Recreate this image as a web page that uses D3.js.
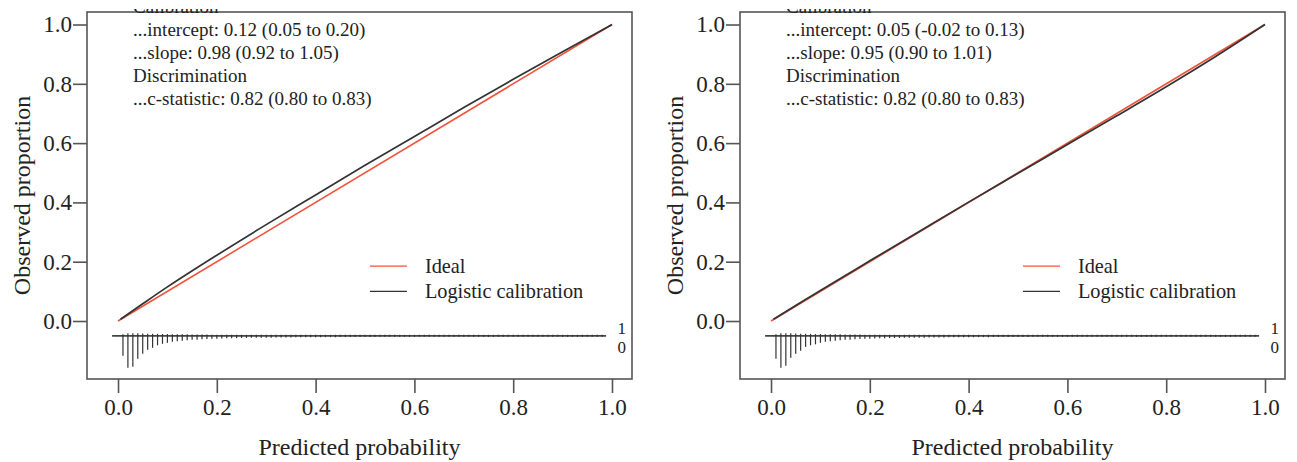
<!DOCTYPE html>
<html>
<head>
<meta charset="utf-8">
<script src="https://cdn.jsdelivr.net/npm/d3@7"></script>
<style>
  html, body { margin: 0; padding: 0; background: #fff; }
  svg text { font-family: "Liberation Serif", "Times New Roman", serif; fill: #222; }
</style>
</head>
<body>
<svg id="chart" width="1297" height="462"></svg>
<script>
// ---------- data ----------
const xTicks = [0, 0.2, 0.4, 0.6, 0.8, 1.0];
const yTicks = [0, 0.2, 0.4, 0.6, 0.8, 1.0];
const tickLabels = ["0.0", "0.2", "0.4", "0.6", "0.8", "1.0"];

const idealP = [0, 1];
const idealObs = [0, 1];

const curveP = [0.005, 0.05, 0.1, 0.2, 0.3, 0.4, 0.5, 0.6, 0.7, 0.8, 0.9, 1.0];
const leftLogistic  = [0.006, 0.058, 0.115, 0.222, 0.325, 0.425, 0.525, 0.622, 0.72, 0.815, 0.908, 1.0];
const rightLogistic = [0.006, 0.052, 0.103, 0.203, 0.302, 0.401, 0.498, 0.595, 0.692, 0.79, 0.892, 1.0];

const leftStats  = ["Calibration", "...intercept: 0.12 (0.05 to 0.20)", "...slope: 0.98 (0.92 to 1.05)", "Discrimination", "...c-statistic: 0.82 (0.80 to 0.83)"];
const rightStats = ["Calibration", "...intercept: 0.05 (-0.02 to 0.13)", "...slope: 0.95 (0.90 to 1.01)", "Discrimination", "...c-statistic: 0.82 (0.80 to 0.83)"];

const legendLabels = ["Ideal", "Logistic calibration"];

// histogram spikes of predicted probabilities (bins of 0.01), relative heights
const rugBins = [0.01,0.02,0.03,0.04,0.05,0.06,0.07,0.08,0.09,0.10,0.11,0.12,0.13,0.14,0.15,0.16,0.17,0.18,0.19,0.20,
  0.21,0.22,0.23,0.24,0.25,0.26,0.27,0.28,0.29,0.30,0.31,0.32,0.33,0.34,0.35,0.36,0.37,0.38,0.39,0.40,
  0.41,0.42,0.43,0.44,0.45,0.46,0.47,0.48,0.49,0.50,0.51,0.52,0.53,0.54,0.55,0.56,0.57,0.58,0.59,0.60,
  0.61,0.62,0.63,0.64,0.65,0.66,0.67,0.68,0.69,0.70,0.71,0.72,0.73,0.74,0.75,0.76,0.77,0.78,0.79,0.80,
  0.81,0.82,0.83,0.84,0.85,0.86,0.87,0.88,0.89,0.90,0.91,0.92,0.93,0.94,0.95,0.96,0.97,0.98];
const leftNonEvents = [20,32,31,23,18,14,12,9.5,8,7,6,5.5,5,4.5,4,3.8,3.5,3.2,3,2.8,
  2.6,2.5,2.4,2.3,2.2,2.1,2,2,1.9,1.8,1.8,1.7,1.7,1.6,1.6,1.5,1.5,1.5,1.4,1.4,
  1.4,1.3,1.3,1.3,1.2,1.2,1.2,1.2,1.1,1.1,1.1,1.1,1,1,1,1,1,1,1,1,
  1,1,1,1,1,1,1,1,1,1,1,1,1,1,1,1,1,1,1,1,
  1,1,1,1,1,1,1,1,1,1,1,1,1,1,1,1,1,1];
const leftEvents = [1.5,2.5,2.5,2.5,2.3,2.2,2,2,1.8,1.8,1.7,1.6,1.5,1.5,1.4,1.4,1.3,1.3,1.2,1.2,
  1.2,1.1,1.1,1.1,1.1,1,1,1,1,1,1,1,1,1,1,1,1,1,1,1,
  1,1,1,1,1,1,1,1,1,1,1,1,1,1,1,1,1,1,1,1,
  1,1,1,1,1,1,1,1,1,1,1,1,1,1,1,1,1,1,1,1,
  1,1,1,1,1,1,1,1,1,1,1,1,1,1,1,1,1,1];
const rightNonEvents = [23,32,30,22,18,15,11,9.5,8.5,7,6,5.5,5,4.5,4,3.8,3.5,3.2,3,2.8,
  2.6,2.5,2.4,2.3,2.2,2.1,2,2,1.9,1.8,1.8,1.7,1.7,1.6,1.6,1.5,1.5,1.5,1.4,1.4,
  1.4,1.3,1.3,1.3,1.2,1.2,1.2,1.2,1.1,1.1,1.1,1.1,1,1,1,1,1,1,1,1,
  1,1,1,1,1,1,1,1,1,1,1,1,1,1,1,1,1,1,1,1,
  1,1,1,1,1,1,1,1,1,1,1,1,1,1,1,1,1,1];
const rightEvents = leftEvents;

// ---------- drawing ----------
const svg = d3.select("#chart");
const boxColor = "#555";
const red = "#f0523a";
const dark = "#333";

function panel(offsetX, logistic, stats, nonEvents, events) {
  const x = d3.scaleLinear().domain([-0.0628, 1.0405]).range([87 + offsetX, 632 + offsetX]);
  const y = d3.scaleLinear().domain([-0.1956, 1.0422]).range([379, 12]);
  const h = d3.scaleLinear().domain([0, 32]).range([0, 32]);
  const g = svg.append("g");

  // box
  g.append("rect").attr("x", x.range()[0]).attr("y", y.range()[1])
    .attr("width", x.range()[1] - x.range()[0]).attr("height", y.range()[0] - y.range()[1])
    .attr("fill", "none").attr("stroke", boxColor).attr("stroke-width", 1.6);

  // x axis
  const xa = g.append("g").attr("transform", `translate(0,${y.range()[0]})`)
    .call(d3.axisBottom(x).tickValues(xTicks).tickFormat((d, i) => tickLabels[i]).tickSize(14).tickPadding(6));
  xa.select(".domain").remove();
  xa.selectAll("line").attr("stroke", boxColor).attr("stroke-width", 1.6);
  xa.selectAll("text").attr("font-size", 23).attr("font-family", "Liberation Serif").attr("fill", "#222");

  // y axis
  const ya = g.append("g").attr("transform", `translate(${x.range()[0]},0)`)
    .call(d3.axisLeft(y).tickValues(yTicks).tickFormat((d, i) => tickLabels[i]).tickSize(14).tickPadding(1));
  ya.select(".domain").remove();
  ya.selectAll("line").attr("stroke", boxColor).attr("stroke-width", 1.6);
  ya.selectAll("text").attr("font-size", 23).attr("font-family", "Liberation Serif").attr("fill", "#222");

  // axis titles
  g.append("text").attr("x", (x.range()[0] + x.range()[1]) / 2).attr("y", 455)
    .attr("text-anchor", "middle").attr("font-size", 24).text("Predicted probability");
  g.append("text").attr("transform", `translate(${30 + offsetX},${(y.range()[0] + y.range()[1]) / 2}) rotate(-90)`)
    .attr("text-anchor", "middle").attr("font-size", 24).text("Observed proportion");

  // clip for plot region (text is clipped to the plot region, as in the original)
  const clipId = "clip" + offsetX;
  svg.append("clipPath").attr("id", clipId).append("rect")
    .attr("x", x.range()[0]).attr("y", 9).attr("width", x.range()[1] - x.range()[0]).attr("height", y.range()[0] - 9);

  // stats text
  g.append("g").attr("clip-path", `url(#${clipId})`).selectAll("text").data(stats).join("text")
    .attr("x", x(0.0305)).attr("y", (d, i) => 13 + i * 23)
    .attr("font-size", 19).text(d => d);

  // ideal line
  const line = d3.line().x(d => x(d[0])).y(d => y(d[1]));
  g.append("path").datum(idealP.map((p, i) => [p, idealObs[i]]))
    .attr("d", line).attr("fill", "none").attr("stroke", red).attr("stroke-width", 1.6);
  // logistic calibration curve
  g.append("path").datum(curveP.map((p, i) => [p, logistic[i]]))
    .attr("d", d3.line().curve(d3.curveMonotoneX).x(d => x(d[0])).y(d => y(d[1])))
    .attr("fill", "none").attr("stroke", dark).attr("stroke-width", 1.7);

  // legend
  const lg = g.append("g");
  const lx = x(0.51), ly = [y(0.185), y(0.1)];
  legendLabels.forEach((lab, i) => {
    lg.append("line").attr("x1", lx).attr("x2", lx + 37).attr("y1", ly[i]).attr("y2", ly[i])
      .attr("stroke", i === 0 ? red : dark).attr("stroke-width", 1.4);
    lg.append("text").attr("x", lx + 55).attr("y", ly[i] + 6.5).attr("font-size", 20.3).text(lab);
  });

  // rug / spike histogram
  const base = y(-0.05);
  g.append("line").attr("x1", x(-0.012)).attr("x2", x(0.988)).attr("y1", base).attr("y2", base)
    .attr("stroke", "#444").attr("stroke-width", 1.6);
  g.append("g").selectAll("line").data(rugBins).join("line")
    .attr("x1", d => x(d)).attr("x2", d => x(d))
    .attr("y1", base).attr("y2", (d, i) => base + h(nonEvents[i]))
    .attr("stroke", "#333").attr("stroke-width", 1.2);
  g.append("g").selectAll("line").data(rugBins).join("line")
    .attr("x1", d => x(d)).attr("x2", d => x(d))
    .attr("y1", base).attr("y2", (d, i) => base - h(events[i]))
    .attr("stroke", "#333").attr("stroke-width", 1.2);
  g.append("text").attr("x", x(1.02)).attr("y", y(-0.024) + 6).attr("font-size", 17).attr("text-anchor", "middle").text("1");
  g.append("text").attr("x", x(1.02)).attr("y", y(-0.088) + 6).attr("font-size", 17).attr("text-anchor", "middle").text("0");
}

panel(0, leftLogistic, leftStats, leftNonEvents, leftEvents);
panel(653, rightLogistic, rightStats, rightNonEvents, rightEvents);
</script>
</body>
</html>
